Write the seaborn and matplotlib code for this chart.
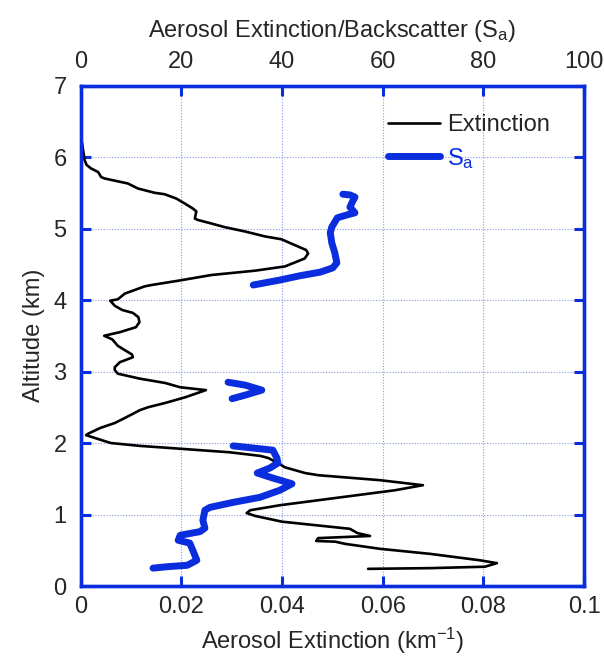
import numpy as np
import pandas as pd
import matplotlib
matplotlib.use("Agg")
import matplotlib.pyplot as plt
from matplotlib.lines import Line2D
import seaborn as sns

# Extinction profile (km^-1) vs altitude (km)
ext_alt = [6.20, 5.96, 5.89, 5.84, 5.79, 5.72, 5.70, 5.63, 5.56, 5.50, 5.48, 5.42,
           5.35, 5.28, 5.24, 5.14, 5.12, 5.07, 5.02, 4.96, 4.89, 4.85, 4.77, 4.70,
           4.65, 4.58, 4.47, 4.41, 4.35, 4.27, 4.21, 4.19, 4.09, 4.01,
           3.99, 3.92, 3.86, 3.82, 3.76, 3.69, 3.62, 3.55, 3.52,
           3.50, 3.45, 3.36, 3.29, 3.24, 3.20, 3.13, 3.06, 3.02, 2.97, 2.90, 2.84,
           2.78, 2.74, 2.64, 2.56, 2.50, 2.46, 2.35, 2.28, 2.21, 2.13, 2.11, 2.00,
           1.96, 1.92, 1.87, 1.82, 1.79, 1.72, 1.66, 1.62, 1.58, 1.55, 1.48, 1.41,
           1.34, 1.24, 1.13, 1.06, 1.02, 0.98, 0.90, 0.80, 0.74, 0.70, 0.67, 0.63,
           0.62, 0.59, 0.52, 0.45, 0.36, 0.32, 0.27, 0.25, 0.24]
ext_val = [0.0003, 0.0008, 0.0012, 0.0021, 0.0035, 0.0041, 0.0048, 0.0094, 0.0114, 0.0147, 0.0167, 0.0190,
           0.0207, 0.0223, 0.0230, 0.0227, 0.0233, 0.0260, 0.0286, 0.0326, 0.0366, 0.0399, 0.0425, 0.0448,
           0.0452, 0.0445, 0.0406, 0.0346, 0.0260, 0.0194, 0.0141, 0.0127, 0.0088, 0.0074,
           0.0059, 0.0068, 0.0083, 0.0104, 0.0115, 0.0117, 0.0110, 0.0078, 0.0059,
           0.0047, 0.0063, 0.0074, 0.0090, 0.0102, 0.0104, 0.0078, 0.0068, 0.0068, 0.0074, 0.0118, 0.0168,
           0.0198, 0.0249, 0.0208, 0.0168, 0.0134, 0.0118, 0.0088, 0.0068, 0.0039, 0.0015, 0.0011, 0.0060,
           0.0118, 0.0198, 0.0297, 0.0357, 0.0373, 0.0392, 0.0406, 0.0426, 0.0446, 0.0472, 0.0595, 0.0680,
           0.0625, 0.0516, 0.0396, 0.0337, 0.0330, 0.0347, 0.0400, 0.0535, 0.0550, 0.0575, 0.0472, 0.0468,
           0.0506, 0.0525, 0.0595, 0.0694, 0.0793, 0.0827, 0.0803, 0.0694, 0.0571]

# Extinction/backscatter ratio, three separate layers
sa_alt = [4.21, 4.28, 4.34, 4.39, 4.45, 4.52, 4.66, 4.80, 4.94, 5.02, 5.15, 5.19,
          5.22, 5.30, 5.36, 5.44, 5.47, 5.48,
          2.85, 2.81, 2.74, 2.67, 2.62,
          1.96, 1.90, 1.79, 1.72, 1.65, 1.58, 1.51, 1.43, 1.34, 1.24, 1.17, 1.10,
          1.06, 0.92, 0.81, 0.76, 0.71, 0.64, 0.60, 0.50, 0.36, 0.29, 0.27, 0.25]
sa_val = [34.3, 39.6, 43.6, 47.6, 50.1, 50.9, 50.5, 49.9, 49.6, 49.9, 51.0, 52.9,
          54.5, 53.5, 53.9, 54.5, 53.5, 52.1,
          29.3, 32.7, 36.0, 32.7, 30.1,
          30.3, 38.2, 39.0, 39.2, 37.6, 35.1, 38.2, 42.0, 39.6, 35.6, 30.3, 25.7,
          24.7, 24.3, 24.7, 23.7, 19.8, 19.4, 21.7, 22.3, 23.1, 21.2, 17.2, 14.4]
sa_layer = [1] * 18 + [2] * 5 + [3] * 24

bottom_ticks = [0, 0.02, 0.04, 0.06, 0.08, 0.1]
bottom_labels = ["0", "0.02", "0.04", "0.06", "0.08", "0.1"]
top_ticks = [0, 20, 40, 60, 80, 100]
alt_ticks = [0, 1, 2, 3, 4, 5, 6, 7]

ext_df = pd.DataFrame({"alt": ext_alt, "ext": ext_val})
sa_df = pd.DataFrame({"alt": sa_alt, "sa": sa_val, "layer": sa_layer})

sns.set_style("white")
plt.rcParams["font.family"] = ["Liberation Sans", "DejaVu Sans"]
plt.rcParams["mathtext.default"] = "regular"

blue = "#0a2ede"
fs = 17

fig = plt.figure(figsize=(6.04, 6.58), dpi=100)
ax = fig.add_axes([0.1333, 0.1094, 0.8337, 0.7606])

sns.lineplot(data=ext_df, x="ext", y="alt", sort=False, estimator=None,
             color="black", linewidth=1.9, ax=ax)
ax.set_xlim(0, 0.1)
ax.set_ylim(0, 7)
ax.set_xticks(bottom_ticks)
ax.set_xticklabels(bottom_labels)
ax.set_yticks(alt_ticks)
ax.grid(True, color="#8a9ae8", linestyle=(0, (1, 1.5)), linewidth=0.8)
ax.set_xlabel("Aerosol Extinction (km$^{-1}$)", fontsize=fs, labelpad=6)
ax.set_ylabel("Altitude (km)", fontsize=fs, labelpad=6)
ax.tick_params(axis="x", direction="in", length=7, width=2.2, color=blue,
               labelsize=fs, pad=7, bottom=True, top=False)
ax.tick_params(axis="y", direction="in", length=7, width=2.2, color=blue,
               labelsize=fs, pad=10, left=True, right=True)

ax2 = ax.twiny()
sns.lineplot(data=sa_df, x="sa", y="alt", units="layer", sort=False, estimator=None,
             color=blue, linewidth=5, ax=ax2)
ax2.set_xlim(0, 100)
ax2.set_ylim(0, 7)
ax2.set_xticks(top_ticks)
ax2.set_xlabel("Aerosol Extinction/Backscatter (S$_a$)", fontsize=fs, labelpad=10)
ax2.tick_params(axis="x", direction="in", length=7, width=2.2, color=blue,
                labelsize=fs, pad=9)

for a in (ax, ax2):
    for sp in a.spines.values():
        sp.set_color(blue)
        sp.set_linewidth(2.4)

handles = [Line2D([], [], color="black", linewidth=1.9),
           Line2D([], [], color=blue, linewidth=5)]
leg = ax2.legend(handles, ["Extinction", "S$_a$"], loc="upper right",
                 bbox_to_anchor=(0.975, 0.985), frameon=False, fontsize=fs,
                 handlelength=2.2, handletextpad=0.3, labelspacing=0.4)
leg.get_texts()[1].set_color(blue)

fig.savefig("out.png", dpi=100)
